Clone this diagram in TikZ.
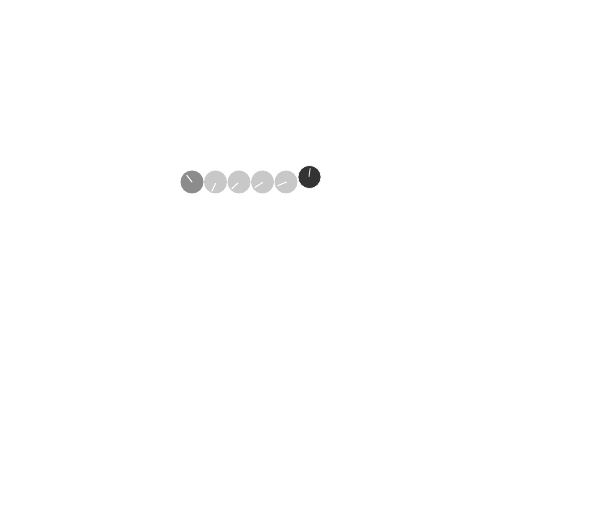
\documentclass[tikz,border=0pt]{standalone}
\begin{document}
\begin{tikzpicture}[x=1pt,y=-1pt]
\definecolor{midgray}{HTML}{8C8C8C}
\definecolor{lightgray2}{HTML}{C8C8C8}
\definecolor{darkgray2}{HTML}{333333}
\tikzset{
  dial/.style={circle,minimum size=23pt,inner sep=0pt},
  hand/.style={draw=white,line width=1pt,line cap=round}
}
\useasboundingbox (0,0) rectangle (600,529);
\node[dial,fill=midgray] (d1) at (192,182) {};
\node[dial,fill=lightgray2] (d2) at (215.5,182) {};
\node[dial,fill=lightgray2] (d3) at (239,182) {};
\node[dial,fill=lightgray2] (d4) at (262.5,182) {};
\node[dial,fill=lightgray2] (d5) at (286,182) {};
\node[dial,fill=darkgray2,draw=white,line width=0.6pt] (d6) at (309.5,177) {};
\draw[hand] (d1.center) ++(0,0) -- ++(-128:8.5);
\draw[hand] (d2.center) ++(0,1.5) -- ++(115:8.5);
\draw[hand] (d3.center) ++(-1,1) -- ++(137:8.5);
\draw[hand] (d4.center) ++(0,0.5) -- ++(147:9);
\draw[hand] (d5.center) ++(0.5,0) -- ++(157:9.5);
\draw[hand,draw=white!85!black] (d6.center) ++(-0.5,-0.5) -- ++(-82:8);
\end{tikzpicture}
\end{document}
